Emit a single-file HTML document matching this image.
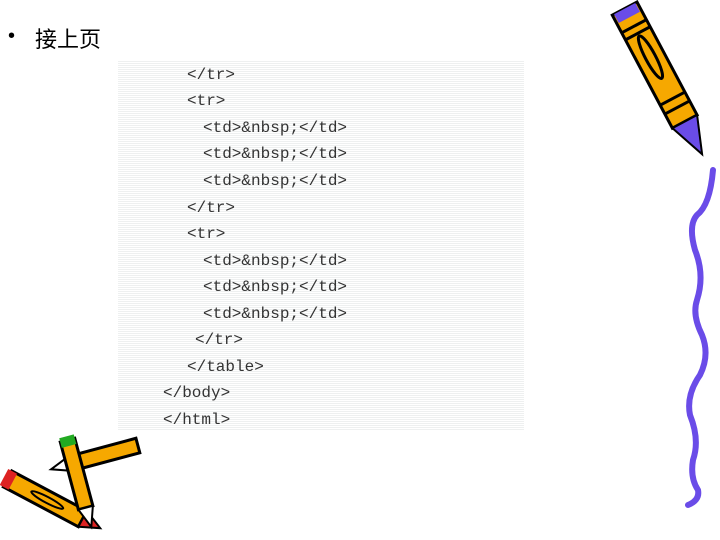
<!DOCTYPE html>
<html><head><meta charset="utf-8"><style>
body{margin:0;width:720px;height:540px;background:#fff;position:relative;overflow:hidden;font-family:"Liberation Sans","Noto Sans CJK SC",sans-serif}
.box{position:absolute;left:118px;top:60px;width:406px;height:370px;background:repeating-linear-gradient(#fff 0,#fff 1px,#eef0f0 1px,#eef0f0 2px)}
.c{position:absolute;font-family:"Liberation Mono",monospace;font-size:16px;color:#333;line-height:16px;white-space:pre}
</style></head><body>
<div style="position:absolute;left:8px;top:25px;font-size:20px">•</div>
<div style="position:absolute;left:35px;top:22px;font-size:22px;font-family:'Noto Sans CJK SC',sans-serif">接上页</div>
<div class="box"></div>
<div class="c" style="left:187px;top:67px">&lt;/tr&gt;</div>
<div class="c" style="left:187px;top:93px">&lt;tr&gt;</div>
<div class="c" style="left:203px;top:120px">&lt;td&gt;&amp;nbsp;&lt;/td&gt;</div>
<div class="c" style="left:203px;top:146px">&lt;td&gt;&amp;nbsp;&lt;/td&gt;</div>
<div class="c" style="left:203px;top:173px">&lt;td&gt;&amp;nbsp;&lt;/td&gt;</div>
<div class="c" style="left:187px;top:200px">&lt;/tr&gt;</div>
<div class="c" style="left:187px;top:226px">&lt;tr&gt;</div>
<div class="c" style="left:203px;top:253px">&lt;td&gt;&amp;nbsp;&lt;/td&gt;</div>
<div class="c" style="left:203px;top:279px">&lt;td&gt;&amp;nbsp;&lt;/td&gt;</div>
<div class="c" style="left:203px;top:306px">&lt;td&gt;&amp;nbsp;&lt;/td&gt;</div>
<div class="c" style="left:195px;top:332px">&lt;/tr&gt;</div>
<div class="c" style="left:187px;top:359px">&lt;/table&gt;</div>
<div class="c" style="left:163px;top:385px">&lt;/body&gt;</div>
<div class="c" style="left:163px;top:412px">&lt;/html&gt;</div>
<svg width="720" height="540" style="position:absolute;left:0;top:0">
<g transform="translate(622,10) rotate(-28)">
<rect x="-11" y="0" width="28" height="128" fill="#f6a800" stroke="#000" stroke-width="3"/>
<rect x="-9" y="0" width="24" height="10" fill="#6a4ce8"/>
<ellipse cx="3" cy="55" rx="5" ry="24" fill="none" stroke="#000" stroke-width="3"/>
<path d="M-11 20h28M-11 28h28M-11 102h28M-11 112h28" stroke="#000" stroke-width="3"/>
<path d="M-11 128 L3 165 L17 128Z" fill="#6a4ce8" stroke="#000" stroke-width="2"/>
</g>
<path d="M713 170 Q710 205 697 215 Q688 225 695 250 Q705 275 697 300 Q692 315 702 335 Q710 355 700 375 Q686 395 690 415 Q700 440 693 460 Q690 478 698 490 Q700 500 688 505" fill="none" stroke="#6a4ce8" stroke-width="6" stroke-linecap="round"/>
<g transform="translate(8,478) rotate(28)">
<rect x="0" y="-8" width="85" height="18" fill="#f6a800" stroke="#000" stroke-width="3"/>
<rect x="-4" y="-8" width="10" height="18" fill="#d22"/>
<ellipse cx="45" cy="1" rx="18" ry="3" fill="none" stroke="#000" stroke-width="2"/>
<path d="M85 -8 L105 1 L85 10Z" fill="#d22" stroke="#000" stroke-width="2"/>
</g>
<g transform="translate(138,446) rotate(165)">
<rect x="0" y="-7" width="70" height="15" fill="#f6a800" stroke="#000" stroke-width="3"/>
<path d="M70 -7 L90 0 L70 8Z" fill="#fff" stroke="#000" stroke-width="2"/>
</g>
<g transform="translate(68,440) rotate(75)">
<rect x="0" y="-7" width="70" height="15" fill="#f6a800" stroke="#000" stroke-width="3"/>
<rect x="-4" y="-7" width="10" height="15" fill="#2a2"/>
<path d="M70 -7 L90 0 L70 8Z" fill="#fff" stroke="#000" stroke-width="2"/>
</g>
</svg>
</body></html>
